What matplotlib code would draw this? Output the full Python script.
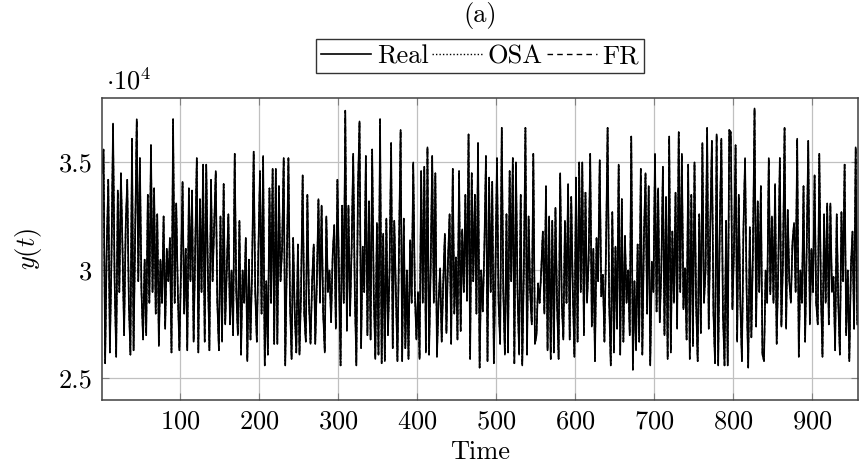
import matplotlib
matplotlib.use('Agg')
import matplotlib.pyplot as plt
import numpy as np

plt.rcParams['font.family'] = 'serif'
plt.rcParams['font.serif'] = ['cmr10']
plt.rcParams['mathtext.fontset'] = 'cm'
plt.rcParams['axes.unicode_minus'] = False
plt.rcParams['axes.formatter.use_mathtext'] = True

# y(t) in units of 10^4, one value every 2 time steps
real = [
    # t = 1 .. 159
    3.45, 3.56, 2.57, 3.10, 3.42, 2.62, 3.05, 3.68, 2.95, 2.60,
    3.37, 2.90, 3.45, 3.10, 2.70, 3.20, 3.42, 2.85, 2.61, 3.61,
    2.63, 3.15, 3.70, 2.95, 3.52, 2.90, 2.68, 3.05, 2.70, 3.35,
    2.85, 3.58, 2.90, 3.38, 2.80, 3.26, 2.65, 3.05, 2.85, 3.25,
    2.73, 3.10, 2.95, 3.15, 2.62, 3.70, 2.85, 3.31, 2.90, 2.63,
    3.00, 3.41, 2.80, 3.10, 2.63, 3.38, 2.95, 3.37, 2.67, 3.10,
    3.52, 2.62, 3.33, 2.90, 3.49, 2.67, 3.49, 3.00, 2.63, 3.42,
    2.95, 3.20, 3.46, 2.85, 2.63, 3.25, 2.67, 3.40, 2.75, 3.00,
    # t = 161 .. 319
    3.26, 2.75, 3.00, 2.70, 3.54, 2.90, 2.70, 3.23, 2.61, 3.00,
    2.85, 3.15, 2.58, 3.05, 2.68, 3.00, 3.55, 2.90, 2.67, 3.10,
    3.46, 2.80, 3.53, 2.56, 2.95, 2.61, 3.38, 2.85, 3.47, 2.66,
    3.47, 2.66, 3.39, 2.95, 3.10, 3.52, 2.56, 3.05, 3.52, 2.85,
    2.59, 3.15, 2.80, 2.62, 3.12, 2.61, 2.90, 3.44, 2.80, 2.67,
    3.35, 2.85, 2.66, 2.95, 3.12, 2.66, 2.95, 3.33, 2.85, 3.30,
    2.80, 2.62, 3.25, 2.90, 3.00, 2.76, 3.07, 3.21, 2.73, 3.42,
    3.00, 2.56, 3.30, 2.85, 3.74, 2.72, 3.30, 2.79, 3.10, 3.54,
    # t = 321 .. 477
    2.90, 2.56, 3.38, 3.69, 2.64, 3.11, 2.90, 3.53, 2.70, 3.32,
    2.68, 3.56, 2.90, 2.59, 3.22, 2.61, 3.70, 2.57, 3.17, 2.58,
    3.24, 2.70, 3.00, 3.59, 2.64, 3.23, 2.90, 2.58, 3.10, 3.65,
    2.58, 3.24, 2.64, 3.00, 2.59, 3.14, 2.85, 3.50, 2.90, 2.68,
    2.90, 2.59, 3.46, 2.85, 3.48, 2.62, 3.57, 2.61, 3.00, 3.53,
    2.85, 3.45, 2.60, 2.85, 3.01, 2.67, 2.95, 3.17, 2.71, 3.05,
    3.26, 2.66, 3.47, 2.80, 3.06, 2.68, 3.46, 2.72, 3.19, 2.90,
    3.35, 2.86, 3.63, 2.59, 3.45, 2.95, 3.35, 2.80, 3.59,
    # t = 479 .. 635
    2.55, 3.00, 2.81, 3.10, 3.53, 2.58, 3.43, 2.90, 3.41, 2.57,
    3.00, 3.52, 2.85, 2.66, 3.66, 2.90, 2.61, 3.26, 2.62, 3.46,
    2.95, 3.52, 2.57, 3.50, 2.90, 2.61, 3.35, 2.56, 3.00, 3.66,
    2.61, 3.25, 2.90, 2.75, 3.54, 2.66, 2.70, 2.94, 2.85, 3.00,
    3.18, 2.80, 3.39, 2.63, 3.25, 2.59, 3.23, 2.62, 3.29, 2.85,
    2.59, 3.45, 2.85, 2.68, 3.23, 2.85, 3.40, 2.68, 3.34, 2.90,
    2.60, 3.43, 2.67, 3.50, 2.90, 3.50, 2.70, 3.36, 2.85, 3.05,
    3.54, 2.74, 3.10, 2.58, 3.15, 2.95, 3.51, 2.88, 2.98,
    # t = 637 .. 795
    2.67, 3.10, 3.66, 2.85, 2.56, 3.27, 2.62, 3.11, 2.73, 3.49,
    2.61, 3.33, 2.67, 3.16, 2.85, 3.00, 2.70, 3.62, 2.54, 2.95,
    2.63, 3.12, 2.67, 3.47, 2.61, 3.15, 3.45, 2.80, 3.39, 2.56,
    3.04, 2.90, 3.54, 2.81, 3.38, 2.76, 3.00, 3.48, 2.70, 3.34,
    2.59, 3.62, 2.62, 3.18, 2.85, 3.36, 2.73, 3.64, 2.90, 3.54,
    2.82, 3.01, 2.68, 3.49, 2.59, 3.35, 2.65, 3.50, 2.85, 2.58,
    3.26, 2.71, 3.59, 2.85, 3.00, 3.66, 2.73, 3.20, 3.60, 2.80,
    2.57, 3.63, 2.56, 3.20, 3.61, 2.80, 2.56, 3.23, 2.56, 3.65,
    # t = 797 .. 957
    3.64, 2.82, 3.10, 3.58, 2.67, 3.35, 2.85, 2.58, 3.20, 3.52,
    2.90, 2.55, 3.20, 2.69, 3.10, 3.75, 2.74, 3.32, 2.90, 3.39,
    2.61, 2.58, 3.00, 2.85, 3.52, 2.89, 3.25, 2.85, 3.40, 2.66,
    3.00, 3.52, 2.74, 3.05, 3.66, 2.73, 3.28, 2.95, 2.85, 3.13,
    3.22, 2.90, 3.61, 2.60, 3.00, 2.85, 3.39, 2.67, 3.10, 3.60,
    2.75, 3.10, 2.90, 3.44, 2.85, 2.75, 3.54, 2.90, 2.60, 3.26,
    2.85, 3.31, 2.75, 3.31, 2.90, 2.97, 2.63, 3.26, 2.85, 2.61,
    3.27, 2.95, 3.49, 2.70, 3.00, 2.58, 3.02, 3.18, 2.73, 3.57,
    2.75,
]
# the one-step-ahead and free-run predictions lie on top of the real curve
osa = list(real)
fr = list(real)

t = 1 + 2 * np.arange(len(real))

fig = plt.figure(figsize=(8.62, 4.76), dpi=100)
ax = fig.add_axes([0.1183, 0.1597, 0.8771, 0.6351])

ax.plot(t, real, color='black', lw=1.2, label='Real')
ax.plot(t, osa, color='black', lw=1.0, ls=(0, (1, 1.5)), label='OSA')
ax.plot(t, fr, color='black', lw=1.0, ls=(0, (4, 3)), label='FR')

ax.set_xlim(1, 958)
ax.set_ylim(2.40, 3.80)
ax.set_xticks([100, 200, 300, 400, 500, 600, 700, 800, 900])
ax.set_yticks([2.5, 3.0, 3.5])
ax.set_yticklabels(['2.5', '3', '3.5'])
ax.grid(True, color='#c0c0c0', lw=0.9)
ax.set_axisbelow(True)
ax.tick_params(direction='in', length=5, width=0.8, color='#808080',
               top=True, right=True, labelsize=19, pad=7)
for s in ax.spines.values():
    s.set_color('#404040')
    s.set_linewidth(1.1)

ax.set_xlabel('Time', fontsize=19, labelpad=5)
ax.set_ylabel(r'$y(t)$', fontsize=19, labelpad=10)
ax.text(0.005, 1.01, r'$\cdot 10^4$', transform=ax.transAxes, fontsize=19,
        ha='left', va='bottom')

fig.text(0.557, 0.968, '(a)', fontsize=19, ha='center', va='center')
leg = ax.legend(loc='lower center', bbox_to_anchor=(0.5, 1.08), ncol=3,
                frameon=True, fancybox=False, edgecolor='black',
                fontsize=19, handlelength=1.9, handletextpad=0.2,
                columnspacing=0.15, borderpad=0.2, borderaxespad=0)
leg.get_frame().set_linewidth(1.0)

fig.savefig('out.png', dpi=100)
